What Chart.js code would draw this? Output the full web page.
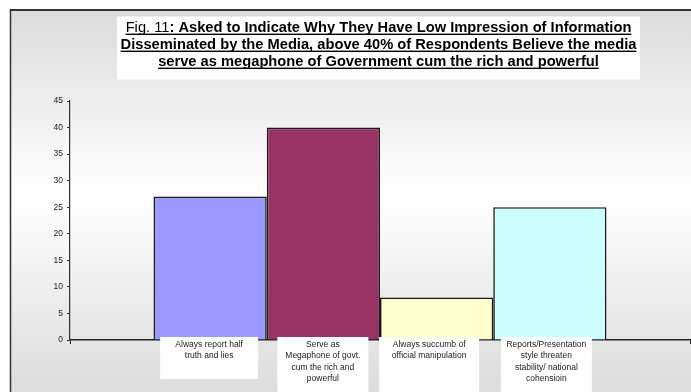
<!DOCTYPE html>
<html>
<head>
<meta charset="utf-8">
<style>
  html, body { margin: 0; padding: 0; background: #fff; }
</style>
<script src="https://cdn.jsdelivr.net/npm/chart.js@4.4.1/dist/chart.umd.min.js"></script>
</head>
<body>
<canvas id="chart" width="691" height="392"></canvas>
<script>
const FONT = '"Liberation Sans", Arial, sans-serif';

// reasons given, one bar each
const reasons = [
    ['Always report half', 'truth and lies'],
    ['Serve as', 'Megaphone of govt.', 'cum the rich and', 'powerful'],
    ['Always succumb of', 'official manipulation'],
    ['Reports/Presentation', 'style threaten', 'stability/ national', 'cohensioin']
];
const respondents = [27, 40, 8, 25];
const yMax = 45;
const yStep = 5;

const barColors = ['#9999FF', '#993366', '#FFFFCC', '#CCFFFF'];

// label text boxes under the bars: shift from bar centre, width, height
const labelBoxes = [
    { dx: -1, w: 98, h: 42 },
    { dx: -0.5, w: 91, h: 60 },
    { dx: -7.5, w: 100, h: 60 },
    { dx: -3.5, w: 91, h: 60 }
];

const titleLines = [
    [{ text: 'Fig. 11', bold: false }, { text: ': Asked to Indicate Why They Have Low Impression of Information', bold: true }],
    [{ text: 'Disseminated by the Media, above 40% of Respondents Believe the media', bold: true }],
    [{ text: 'serve as megaphone of Government cum the rich and powerful', bold: true }]
];

const frame = {
    id: 'frame',
    beforeDraw(chart) {
        const c = chart.ctx;
        const W = chart.width, H = chart.height;
        c.save();
        c.fillStyle = '#fff';
        c.fillRect(0, 0, W, H);

        const g = c.createLinearGradient(0, 10, 0, H);
        g.addColorStop(0, '#dcdcdc');
        g.addColorStop(0.48, '#ffffff');
        g.addColorStop(1, '#dcdcdc');
        c.fillStyle = g;
        c.fillRect(10, 10, W - 10, H - 10);

        c.strokeStyle = '#333';
        c.lineWidth = 2;
        c.beginPath();
        c.moveTo(10, 10);
        c.lineTo(W, 10);
        c.stroke();
        c.lineWidth = 1.5;
        c.beginPath();
        c.moveTo(10.5, 9);
        c.lineTo(10.5, H);
        c.stroke();

        // title box
        c.fillStyle = '#fff';
        c.fillRect(117, 16.5, 523, 63);

        const cx = 378.5;
        const size = 14.7;
        c.fillStyle = '#000';
        c.textBaseline = 'alphabetic';
        c.textAlign = 'left';
        titleLines.forEach((parts, i) => {
            const y = 32 + i * 17;
            let total = 0;
            const widths = parts.map(p => {
                c.font = (p.bold ? 'bold ' : '') + size + 'px ' + FONT;
                const w = c.measureText(p.text).width;
                total += w;
                return w;
            });
            let x = cx - total / 2;
            parts.forEach((p, j) => {
                c.font = (p.bold ? 'bold ' : '') + size + 'px ' + FONT;
                c.fillText(p.text, x, y);
                x += widths[j];
            });
            c.fillRect(cx - total / 2, y + 1.6, total, 1.4);
        });
        c.restore();
    }
};

const barLabels = {
    id: 'barLabels',
    afterDraw(chart) {
        const c = chart.ctx;
        c.save();
        c.font = '8.5px ' + FONT;
        c.textAlign = 'center';
        c.textBaseline = 'alphabetic';
        reasons.forEach((lines, i) => {
            const bar = chart.getDatasetMeta(i).data[0];
            const box = labelBoxes[i];
            const cx = bar.x + box.dx;
            const top = 337;
            c.fillStyle = '#fff';
            c.fillRect(cx - box.w / 2, top, box.w, box.h);
            c.fillStyle = '#222';
            lines.forEach((line, k) => {
                c.fillText(line, cx, top + 10 + k * 11.3);
            });
        });
        c.restore();
    }
};

const datasets = respondents.map((v, i) => ({
    label: reasons[i].join(' '),
    data: [v],
    backgroundColor: barColors[i],
    borderColor: '#1a1a1a',
    borderWidth: 1.6,
    categoryPercentage: 0.7306,
    barPercentage: 1
}));

new Chart(document.getElementById('chart').getContext('2d'), {
    type: 'bar',
    data: {
        labels: [''],
        datasets
    },
    options: {
        responsive: false,
        animation: false,
        layout: {
            padding: { left: 10, top: 101, right: 1, bottom: 52 }
        },
        plugins: {
            legend: { display: false },
            tooltip: { enabled: false },
            title: { display: false }
        },
        scales: {
            x: {
                offset: true,
                ticks: { display: false },
                grid: { drawOnChartArea: false, tickLength: 4, color: '#222', offset: true },
                border: { color: '#222', width: 1.5 },
                afterFit: (scale) => { scale.height = 0; }
            },
            y: {
                min: 0,
                max: yMax,
                ticks: {
                    stepSize: yStep,
                    padding: 4,
                    color: '#222',
                    font: { family: FONT, size: 8.5 }
                },
                grid: { drawOnChartArea: false, tickLength: 3, color: '#333' },
                border: { color: '#333', width: 1.2 },
                afterFit: (scale) => { scale.width = 60; }
            }
        }
    },
    plugins: [frame, barLabels]
});
</script>
</body>
</html>
